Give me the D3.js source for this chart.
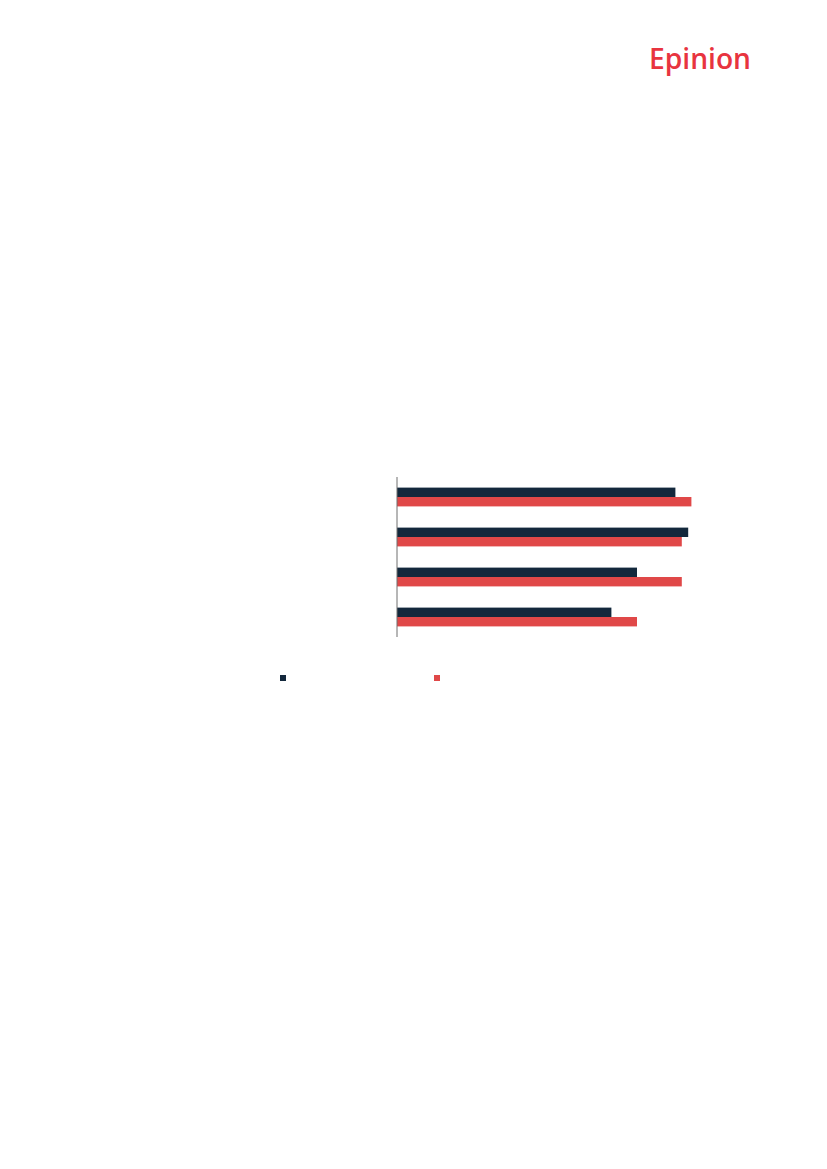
<!DOCTYPE html>
<html lang="en">
<head>
<meta charset="UTF-8">
<title>Epinion chart</title>
<style>
  body { margin: 0; background: #fff; }
</style>
</head>
<body>
<script src="https://d3js.org/d3.v7.min.js"></script>
<script>
var width = 827, height = 1169;

// four question groups, two series (labels not shown in the picture)
var categories = ["A", "B", "C", "D"];
var seriesNames = ["s1", "s2"];
var series1 = [87, 91, 75, 67];
var series2 = [92, 89, 89, 75];
var colors = ["#13283c", "#e04848"];

var plot = { left: 397, right: 717, top: 477, bottom: 637 };

var svg = d3.select("body").append("svg")
    .attr("width", width)
    .attr("height", height);

// logo
svg.append("text")
    .attr("x", 751)
    .attr("y", 69)
    .attr("text-anchor", "end")
    .attr("font-family", "Open Sans, sans-serif")
    .attr("font-weight", 600)
    .attr("font-size", 28)
    .attr("textLength", 102)
    .attr("lengthAdjust", "spacingAndGlyphs")
    .attr("fill", "#e8343f")
    .text("Epinion");

var x = d3.scaleLinear().domain([0, 100]).range([plot.left, plot.right]);
var y = d3.scaleBand().domain(categories).range([plot.top, plot.bottom]).paddingInner(0.53).paddingOuter(0.265);
var y1 = d3.scaleBand().domain(seriesNames).range([0, y.bandwidth()]);

var rows = categories.map(function(c, i) {
    return { cat: c, values: [series1[i], series2[i]] };
});

var g = svg.selectAll(".grp")
    .data(rows)
    .enter()
    .append("g")
    .attr("class", "grp")
    .attr("transform", function(d) { return "translate(0," + y(d.cat) + ")"; });

g.selectAll("rect")
    .data(function(d) { return d.values.map(function(v, j) { return { name: seriesNames[j], v: v, j: j }; }); })
    .enter()
    .append("rect")
    .attr("x", x(0))
    .attr("y", function(d) { return y1(d.name); })
    .attr("width", function(d) { return x(d.v) - x(0); })
    .attr("height", y1.bandwidth())
    .attr("fill", function(d) { return colors[d.j]; });

// axis line
svg.append("line")
    .attr("x1", x(0)).attr("x2", x(0))
    .attr("y1", plot.top).attr("y2", plot.bottom)
    .attr("stroke", "#6f6f6f")
    .attr("stroke-width", 1);

// legend markers
var legendX = [280, 434];
svg.selectAll(".leg")
    .data(seriesNames)
    .enter()
    .append("rect")
    .attr("class", "leg")
    .attr("x", function(d, i) { return legendX[i]; })
    .attr("y", 675)
    .attr("width", 6)
    .attr("height", 6)
    .attr("fill", function(d, i) { return colors[i]; });
</script>
</body>
</html>
